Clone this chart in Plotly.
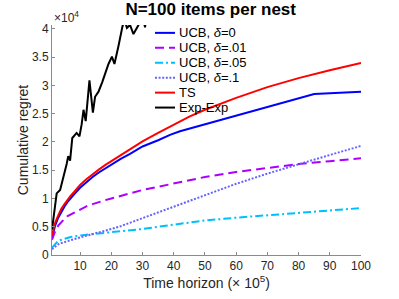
import plotly.graph_objects as go

# ---------------- data (regret in units of 1e4, horizon in units of 1e5) ----------------
x_smooth = [1, 2, 3, 4, 5, 6, 7, 8, 10, 12, 14, 16, 18, 20, 23, 26, 30, 35, 40, 45, 50, 60, 70, 80, 90, 100]

ts_regret = [0.34, 0.57, 0.70, 0.82, 0.90, 0.98, 1.05, 1.11, 1.24, 1.34, 1.43, 1.51, 1.59, 1.66, 1.77, 1.88, 2.01, 2.16, 2.30, 2.45, 2.57, 2.78, 2.97, 3.13, 3.27, 3.40]
ucb_d01_regret = [0.27, 0.42, 0.52, 0.59, 0.64, 0.69, 0.72, 0.75, 0.81, 0.86, 0.90, 0.94, 0.97, 1.00, 1.05, 1.09, 1.15, 1.21, 1.27, 1.33, 1.38, 1.47, 1.54, 1.61, 1.66, 1.71]
ucb_d05_regret = [0.13, 0.20, 0.25, 0.27, 0.29, 0.31, 0.32, 0.33, 0.35, 0.36, 0.37, 0.38, 0.40, 0.41, 0.42, 0.44, 0.46, 0.50, 0.54, 0.57, 0.61, 0.66, 0.70, 0.74, 0.79, 0.83]
ucb_d1_regret = [0.10, 0.15, 0.19, 0.21, 0.23, 0.25, 0.27, 0.28, 0.31, 0.34, 0.36, 0.39, 0.42, 0.46, 0.51, 0.57, 0.65, 0.76, 0.86, 0.96, 1.06, 1.26, 1.44, 1.61, 1.77, 1.93]

x_ucb0 = [1, 2, 3, 4, 5, 6, 7, 8, 10, 12, 14, 16, 18, 20, 23, 26, 30, 35, 39, 42, 85, 100]
ucb0_regret = [0.30, 0.52, 0.66, 0.77, 0.86, 0.94, 1.01, 1.07, 1.19, 1.29, 1.38, 1.46, 1.53, 1.60, 1.70, 1.79, 1.92, 2.03, 2.13, 2.19, 2.85, 2.89]

x_exp = [1, 2.5, 3.6, 4.7, 5.7, 6.2, 6.8, 7.5, 8.9, 9.8, 10.5, 11.1, 11.8, 13.0, 14.1, 14.8, 15.9, 17.1, 19.1, 20.2, 21.0, 22.3, 23.6, 24.3, 25.0, 26.0, 27.1, 28.7, 29.8, 30.8, 31.8, 40, 60, 80, 100]
exp_regret = [0.45, 1.09, 1.15, 1.38, 1.61, 1.75, 1.67, 2.07, 2.16, 2.10, 2.31, 2.57, 2.37, 3.09, 2.52, 2.80, 2.89, 3.06, 3.38, 3.51, 3.38, 3.70, 4.05, 4.15, 4.02, 4.07, 3.91, 4.07, 4.30, 4.03, 4.45, 5.20, 6.60, 8.00, 9.50]

series_names = ["UCB, <i>δ</i>=0", "UCB, <i>δ</i>=.01", "UCB, <i>δ</i>=.05", "UCB, <i>δ</i>=.1", "TS", "Exp-Exp"]
series_x = [x_ucb0, x_smooth, x_smooth, x_smooth, x_smooth, x_exp]
series_y = [ucb0_regret, ucb_d01_regret, ucb_d05_regret, ucb_d1_regret, ts_regret, exp_regret]
series_colors = ["#0000ff", "#aa00ff", "#00bfff", "#6464ff", "#ff0000", "#000000"]
series_dash = ["solid", "9px,5px", "8px,3px,2px,3px", "2px,1.6px", "solid", "solid"]

x_ticks = [10, 20, 30, 40, 50, 60, 70, 80, 90, 100]
y_ticks = [0, 0.5, 1, 1.5, 2, 2.5, 3, 3.5, 4]
y_tick_labels = ["0", "0.5", "1", "1.5", "2", "2.5", "3", "3.5", "4"]

# ---------------- layout constants ----------------
W, H = 399, 299
L, R, T, B = 52, 38, 25, 40
FONT = "Liberation Sans, Arial, Helvetica, sans-serif"
AX = "#8a8a8a"
TXT = "#262626"

fig = go.Figure()
for name, xs, ys, col, dash in zip(series_names, series_x, series_y, series_colors, series_dash):
    fig.add_trace(go.Scatter(x=xs, y=ys, mode="lines", name=name, showlegend=False,
                             line=dict(color=col, width=2, dash=dash)))

# manual legend (compact, MATLAB-like spacing)
pw, ph = W - L - R, H - T - B
def px2x(px):
    return (px - L) / pw
def py2y(py):
    return (H - B - py) / ph

leg_x0, leg_x1, leg_tx, leg_y0, leg_dy = 155, 175, 177, 33, 15.2
for i, (name, col, dash) in enumerate(zip(series_names, series_colors, series_dash)):
    yy = py2y(leg_y0 + i * leg_dy)
    fig.add_shape(type="line", xref="paper", yref="paper", x0=px2x(leg_x0), x1=px2x(leg_x1),
                  y0=yy, y1=yy, line=dict(color=col, width=2, dash=dash))
    fig.add_annotation(xref="paper", yref="paper", x=px2x(leg_tx), y=yy, text=name,
                       showarrow=False, xanchor="left", yanchor="middle",
                       font=dict(family=FONT, size=13, color="#000000"))

fig.add_annotation(xref="paper", yref="paper", x=0, y=1, text="×10<sup>4</sup>", showarrow=False,
                   xanchor="left", yanchor="bottom", yshift=-2,
                   font=dict(family=FONT, size=12, color=TXT))

fig.update_layout(
    width=W, height=H,
    margin=dict(l=L, r=R, t=T, b=B),
    paper_bgcolor="white", plot_bgcolor="white",
    font=dict(family=FONT, size=12, color=TXT),
    title=dict(text="<b>N=100 items per nest</b>", x=0.528, xanchor="center", y=0.99, yanchor="top",
               font=dict(family=FONT, size=17, color="#000000")),
    xaxis=dict(range=[1, 100], tickvals=x_ticks, ticks="inside", ticklen=3, tickcolor=AX,
               showline=True, linecolor=AX, linewidth=1, showgrid=False, zeroline=False,
               tickfont=dict(size=12, color=TXT),
               title=dict(text="Time horizon (× 10<sup>5</sup>)", font=dict(size=14, color=TXT), standoff=4)),
    yaxis=dict(range=[0, 4.07], tickvals=y_ticks, ticktext=y_tick_labels, ticks="inside", ticklen=3,
               tickcolor=AX, showline=True, linecolor=AX, linewidth=1, showgrid=False, zeroline=False,
               tickfont=dict(size=12, color=TXT),
               title=dict(text="Cumulative regret", font=dict(size=14, color=TXT), standoff=0)),
)

fig.write_html("out.html", config={"displayModeBar": False},
               post_script="document.body.style.margin='0px';")
